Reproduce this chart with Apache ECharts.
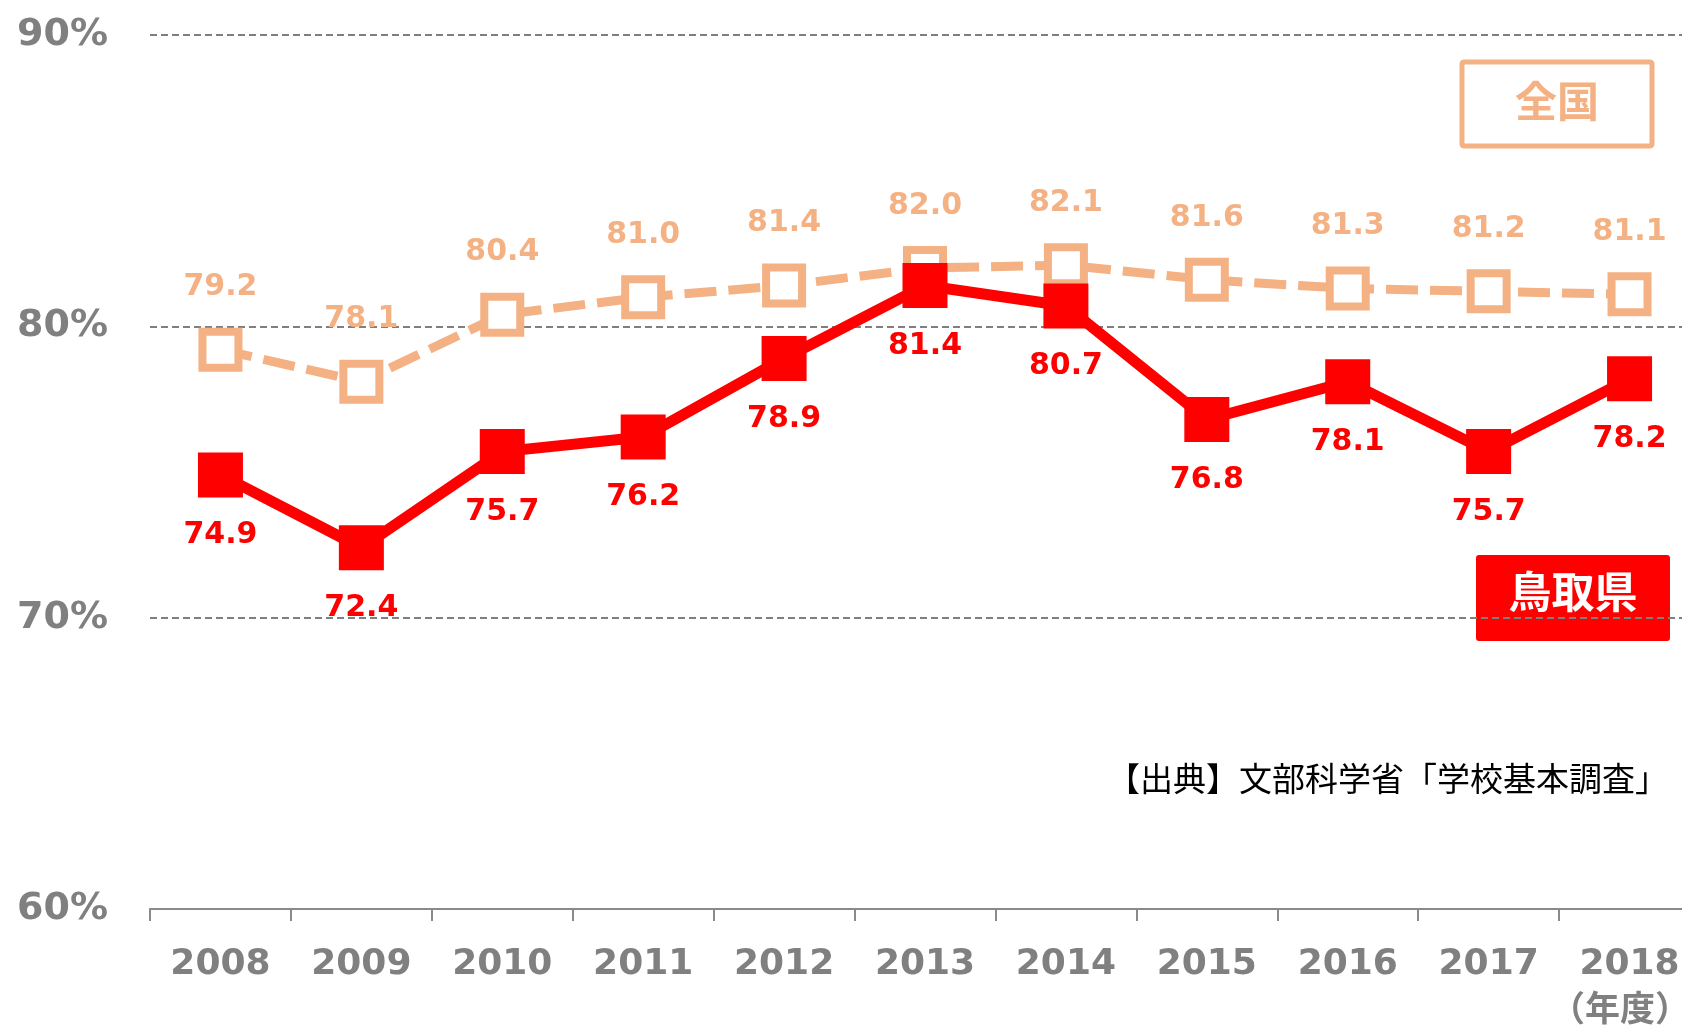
<!DOCTYPE html>
<html>
<head>
<meta charset="utf-8">
<script src="https://cdn.jsdelivr.net/npm/echarts@6/dist/echarts.min.js"></script>
<style>
  html, body { margin: 0; padding: 0; background: #fff; }
  #chart { width: 1682px; height: 1026px; }
</style>
</head>
<body>
<div id="chart"></div>
<script>
const years = ["2008", "2009", "2010", "2011", "2012", "2013", "2014", "2015", "2016", "2017", "2018"];
const zenkoku = [79.2, 78.1, 80.4, 81.0, 81.4, 82.0, 82.1, 81.6, 81.3, 81.2, 81.1];
const tottori = [74.9, 72.4, 75.7, 76.2, 78.9, 81.4, 80.7, 76.8, 78.1, 75.7, 78.2];

const chartDom = document.getElementById("chart");
const myChart = echarts.init(chartDom);

const numFont = "'DejaVu Sans', Verdana, sans-serif";
const jpFont = "'Noto Sans CJK JP', sans-serif";
const gray = "#808080";
const orange = "#F4B183";
const red = "#FF0000";

const option = {
    animation: false,
    backgroundColor: "#fff",
    grid: {
        left: 150,
        width: 1550, // plot runs past the right edge, as in the original
        top: 35,
        bottom: 117,
        outerBoundsMode: "none",
        containLabel: false,
    },
    xAxis: {
        type: "category",
        data: years,
        boundaryGap: true,
        axisLine: { lineStyle: { color: "#8a8a8a", width: 2 } },
        axisTick: { show: true, length: 12, lineStyle: { color: "#8a8a8a", width: 2 } },
        axisLabel: {
            color: gray,
            fontFamily: numFont,
            fontWeight: "bold",
            fontSize: 36,
            margin: 38,
        },
    },
    yAxis: {
        type: "value",
        min: 60,
        max: 90,
        interval: 10,
        axisLine: { show: false },
        axisTick: { show: false },
        axisLabel: {
            formatter: "{value}%",
            color: gray,
            fontFamily: numFont,
            fontWeight: "bold",
            fontSize: 38,
            margin: 42,
            padding: [0, 0, 12, 0],
        },
        splitLine: {
            lineStyle: { color: "#7f7f7f", width: 2, type: [7, 4] },
        },
    },
    series: [
        {
            name: "全国",
            type: "line",
            data: zenkoku,
            symbol: "rect",
            symbolSize: 36,
            showAllSymbol: true,
            lineStyle: { color: orange, width: 9, type: [32, 12] },
            itemStyle: { color: "#fff", borderColor: orange, borderWidth: 8 },
            label: {
                show: true,
                position: "top",
                distance: 25,
                color: orange,
                fontFamily: numFont,
                fontWeight: "bold",
                fontSize: 30,
                formatter: (p) => p.value.toFixed(1),
            },
            z: 2,
        },
        {
            name: "鳥取県",
            type: "line",
            data: tottori,
            symbol: "rect",
            symbolSize: 45,
            showAllSymbol: true,
            lineStyle: { color: red, width: 11 },
            itemStyle: { color: red },
            label: {
                show: true,
                position: "bottom",
                distance: 23,
                color: red,
                fontFamily: numFont,
                fontWeight: "bold",
                fontSize: 30,
                formatter: (p) => p.value.toFixed(1),
            },
            z: 3,
        },
    ],
    graphic: [
        {
            type: "rect",
            shape: { x: 1462, y: 62, width: 190, height: 84, r: 2 },
            style: { fill: "#fff", stroke: orange, lineWidth: 5 },
        },
        {
            type: "text",
            x: 1557,
            y: 101,
            style: {
                text: "全国",
                fill: orange,
                font: "bold 42px " + jpFont,
                textAlign: "center",
                textVerticalAlign: "middle",
            },
        },
        {
            type: "rect",
            shape: { x: 1476, y: 555, width: 194, height: 86, r: 3 },
            style: { fill: red },
        },
        {
            type: "text",
            x: 1573,
            y: 592,
            style: {
                text: "鳥取県",
                fill: "#fff",
                font: "bold 43px " + jpFont,
                textAlign: "center",
                textVerticalAlign: "middle",
            },
        },
        {
            type: "text",
            x: 1668,
            y: 778,
            style: {
                text: "【出典】文部科学省「学校基本調査」",
                fill: "#000",
                font: "33px " + jpFont,
                textAlign: "right",
                textVerticalAlign: "middle",
            },
        },
        {
            type: "text",
            x: 1620,
            y: 1008,
            style: {
                text: "（年度）",
                fill: gray,
                font: "bold 35px " + jpFont,
                textAlign: "center",
                textVerticalAlign: "middle",
            },
        },
    ],
};
myChart.setOption(option);

window.addEventListener("resize", function () {
    myChart.resize();
});
</script>
</body>
</html>
